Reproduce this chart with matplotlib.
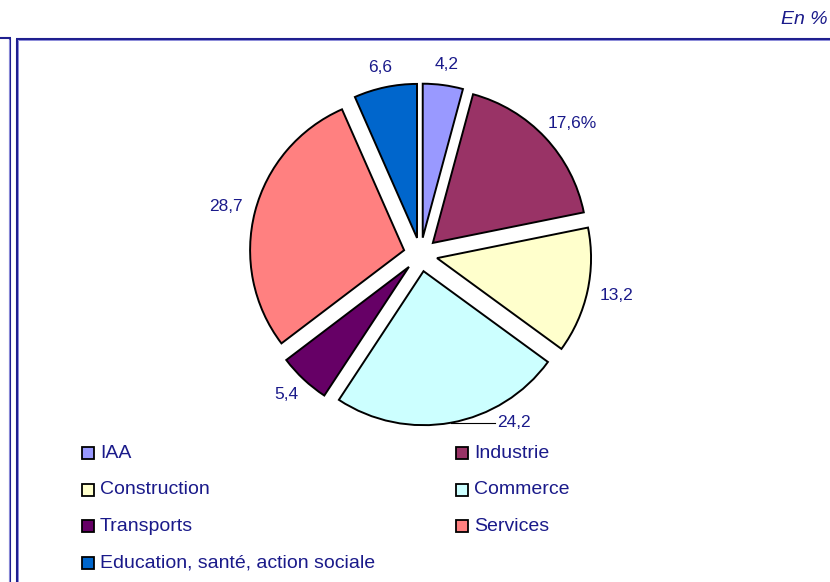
import numpy as np
import matplotlib
matplotlib.use("Agg")
import matplotlib.pyplot as plt
from matplotlib.patches import Rectangle
from matplotlib.lines import Line2D

plt.rcParams['font.family'] = ['Liberation Sans', 'DejaVu Sans']

# ---- data ----
categories = ["IAA", "Industrie", "Construction", "Commerce", "Transports",
              "Services", "Education, santé, action sociale"]
values = [4.2, 17.6, 13.2, 24.2, 5.4, 28.7, 6.6]
colors = ["#9999FF", "#993366", "#FFFFCC", "#CCFFFF", "#660066", "#FF8080", "#0066CC"]
value_labels = [f"{v:.1f}".replace(".", ",") for v in values]
value_labels[1] = value_labels[1] + "%"
unit_label = "En %"

W, H = 830, 582
TXT = "#1a1a8a"

fig = plt.figure(figsize=(W / 100, H / 100), dpi=100)
ax = fig.add_axes([0, 0, 1, 1])

cx, cy = 420.5, H - 254.5
R = 154
EXP = 0.11 * R  # explode offset in data (pixel) units

wedges, _ = ax.pie(values, colors=colors, startangle=90, counterclock=False,
                   explode=[EXP] * len(values), center=(cx, cy), radius=R,
                   wedgeprops=dict(edgecolor="black", linewidth=1.4),
                   normalize=True, frame=True)
ax.set_xlim(0, W)
ax.set_ylim(0, H)
ax.set_aspect("auto")
ax.axis("off")

fig.canvas.draw()
renderer = fig.canvas.get_renderer()
total = sum(values)
cum = 0.0
for i, (v, lab) in enumerate(zip(values, value_labels)):
    mid = np.deg2rad(90 - (cum + v / 2) / total * 360)
    cum += v
    dx, dy = np.cos(mid), np.sin(mid)
    if categories[i] == "Commerce":
        # label moved aside with a leader line
        px = cx + (EXP + R) * dx
        py = cy + (EXP + R) * dy
        tx, ty = px + 46, py
        ax.plot([px, tx - 2], [py, ty], color="black", lw=0.8)
        ax.text(tx, ty, lab, ha="left", va="center", fontsize=12.5, color=TXT)
        continue
    t = ax.text(0, 0, lab, ha="center", va="center", fontsize=12.5, color=TXT)
    bb = t.get_window_extent(renderer)
    ra = R * 1.195
    t.set_position((cx + ra * dx + bb.width / 2 * dx,
                    cy + ra * dy + bb.height / 2 * dy))

# ---- legend (manual, two columns, row-wise) ----
col_x = [82, 456]
row_y0, row_dy = 453, 36.7
for i, (cat, col) in enumerate(zip(categories, colors)):
    r, c = divmod(i, 2)
    yc = H - (row_y0 + r * row_dy)
    ax.add_patch(Rectangle((col_x[c], yc - 6), 12, 12, facecolor=col,
                           edgecolor="black", linewidth=1.3))
    ax.text(col_x[c] + 18, yc, cat, ha="left", va="center", fontsize=14, color=TXT)

# ---- frame ----
dark = "#1f1f8f"
light = "#8a8ad8"
def seg(x0, y0, x1, y1, c, lw):
    ax.add_line(Line2D([x0, x1], [H - y0, H - y1], color=c, lw=lw, solid_capstyle="butt"))
# outer left box
seg(9.5, 37.5, 9.5, H, dark, 1.5)
seg(0, 37.5, 10.5, 37.5, dark, 1.5)
seg(8.5, 38.5, 8.5, H, light, 0.7)
# inner box
seg(16.5, 38.5, 16.5, H, dark, 1.5)
seg(15.8, 38.5, W, 38.5, dark, 1.5)
seg(17.7, 39.7, 17.7, H, light, 0.7)
seg(17.5, 39.8, W, 39.8, light, 0.7)

ax.text(828, H - 20, unit_label, ha="right", va="center", fontsize=14,
        style="italic", color=TXT)

fig.savefig("out.png", dpi=100)
